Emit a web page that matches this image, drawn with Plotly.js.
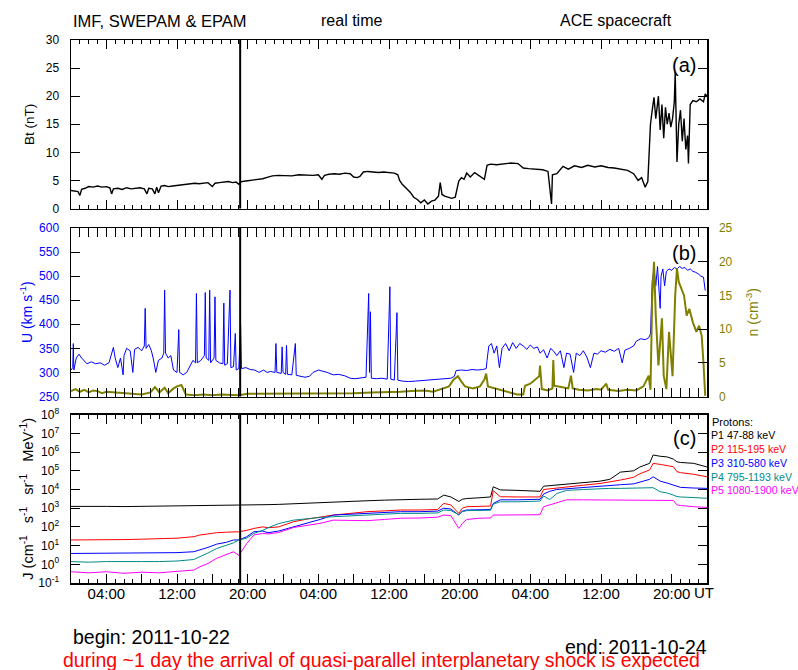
<!DOCTYPE html>
<html>
<head>
<meta charset="utf-8">
<script src="https://cdn.plot.ly/plotly-3.0.1.min.js"></script>
<style>
html,body{margin:0;padding:0;background:#fff;}
#chart{width:798px;height:670px;}
</style>
</head>
<body>
<div id="chart"></div>
<script>
// ---------- DATA (hours since 2011-10-22 00:00 UT) ----------
const tickHours = [0,4,8,12,16,20,24,28,32,36,40,44,48,52,56,60,64,68,72];
const tickLabels = ['','04:00','','12:00','','20:00','','04:00','','12:00','','20:00','','04:00','','12:00','','20:00',''];
const markerHour = 19.15;

// Panel (a): Bt (nT)
const btHours = [0,0.4,0.8,1.0,1.2,1.6,2.0,2.5,3.0,3.5,4.0,4.4,4.6,4.8,5.3,5.8,6.3,6.8,7.3,7.8,8.3,8.6,8.8,9.2,9.5,9.7,9.9,10.2,10.6,11.0,11.5,12.0,12.5,13.0,13.5,14.0,14.5,15.0,15.5,16.0,16.3,16.8,17.3,17.8,18.3,18.7,19.0,19.3,19.8,20.3,20.8,21.3,21.7,22.3,22.8,23.5,24.2,25.0,25.8,26.6,27.4,28.0,28.4,28.7,29.2,29.8,30.4,31.0,31.6,32.0,32.4,32.7,33.1,33.6,34.2,34.8,35.4,36.0,36.6,37.0,37.2,37.5,38.0,38.4,38.8,39.2,39.6,40.0,40.4,40.8,41.2,41.6,41.8,42.0,42.3,42.7,43.1,43.5,43.9,44.2,44.5,44.8,45.2,45.7,46.2,46.8,47.1,47.5,48.2,49.0,49.8,50.6,51.2,51.8,52.6,53.4,54.0,54.4,54.5,55.0,55.7,56.3,57.0,57.8,58.5,59.3,60.0,60.8,61.5,62.3,63.0,63.7,64.2,64.6,65.0,65.3,65.6,65.8,66.0,66.2,66.5,66.7,66.9,67.1,67.3,67.5,67.7,67.9,68.1,68.3,68.4,68.6,68.8,69.0,69.2,69.4,69.6,69.8,69.9,70.1,70.4,70.8,71.2,71.6,71.8,72.0];
const btValues = [3.2,3.1,3.0,2.3,3.4,3.6,3.9,3.8,4.0,3.8,3.9,3.7,2.6,3.5,3.6,3.4,3.7,3.5,3.6,3.7,3.5,2.6,3.6,3.5,2.6,3.8,2.8,4.0,4.1,3.9,4.0,4.1,4.2,4.3,4.4,4.5,4.4,4.5,4.6,3.9,4.5,4.6,4.7,4.8,4.6,4.7,4.3,4.8,4.9,5.0,5.0,5.1,5.3,5.6,5.8,5.9,5.9,5.8,6.0,5.9,5.9,6.0,5.2,5.9,6.1,6.2,6.1,6.3,6.2,5.6,5.5,5.7,6.5,6.6,6.5,6.4,6.5,6.4,6.3,6.0,5.0,4.3,3.5,2.9,2.0,1.6,1.0,1.5,0.8,1.3,1.5,2.2,4.6,2.5,2.2,2.0,1.8,2.0,4.9,5.5,5.2,6.3,5.6,6.4,5.8,5.2,7.7,7.9,7.8,8.0,8.1,8.0,7.2,7.1,7.0,6.9,6.6,0.8,6.0,6.2,7.5,7.0,7.6,7.3,7.7,7.4,7.6,7.3,7.2,7.0,6.8,6.2,5.0,5.5,3.8,4.8,15.0,17.5,19.8,16.0,20.0,14.0,18.5,12.5,18.0,15.0,17.0,14.5,16.0,19.0,24.3,8.3,15.0,17.5,12.0,16.0,10.5,13.0,8.0,18.5,19.2,19.0,19.5,19.0,20.4,20.0];

// Panel (b): U (km/s) and n (cm^-3)
const uHours = [0.0,0.2,0.26,0.32,0.6,0.9,1.2,1.5,1.8,2.3,2.8,3.3,3.8,4.3,4.6,4.8,5.0,5.3,5.6,5.9,6.0,6.3,6.7,7.0,7.2,7.6,8.0,8.3,8.4,8.5,8.8,9.1,9.3,9.6,9.9,10.3,10.5,10.6,10.7,11.0,11.3,11.6,12.0,12.2,12.3,12.7,13.1,13.5,13.8,14.1,14.2,14.3,14.7,15.1,15.2,15.3,15.6,15.7,15.8,16.2,16.3,16.4,16.8,17.2,17.3,17.4,17.7,18.0,18.1,18.4,18.6,18.7,19.0,19.2,19.3,19.8,20.3,20.8,21.3,21.8,22.2,22.6,23.1,23.2,23.3,23.8,23.9,24.0,24.3,24.4,24.5,25.0,25.4,25.5,26.0,26.5,27.0,27.4,28.0,28.5,29.0,29.7,30.3,31.0,31.6,32.2,32.8,33.4,33.7,33.8,33.9,34.0,34.6,35.2,35.8,36.1,36.2,36.6,36.9,37.0,37.5,38.2,39.0,39.8,40.6,41.4,42.2,43.0,43.4,43.6,44.2,44.8,45.4,46.0,46.6,47.0,47.1,47.3,47.6,47.9,48.2,48.5,48.8,49.2,49.6,50.0,50.4,50.8,51.2,51.6,52.0,52.4,52.8,53.1,53.5,53.9,54.3,54.6,55.0,55.4,55.8,56.1,56.5,56.9,57.2,57.6,58.0,58.4,58.8,59.2,59.6,60.0,60.5,61.0,61.5,62.0,62.4,62.7,63.2,63.7,64.0,64.5,65.0,65.4,65.6,65.8,66.0,66.2,66.4,66.6,66.7,66.8,67.0,67.2,67.4,67.7,68.0,68.3,68.6,68.9,69.2,69.5,69.8,70.1,70.4,70.7,71.0,71.3,71.6,71.8];
const uValues = [305,310,360,305,330,338,330,325,318,322,318,320,315,320,340,352,330,310,330,295,335,350,345,300,348,352,345,355,433,350,358,345,330,300,325,330,340,471,340,330,335,305,300,389,300,295,300,315,325,320,464,320,325,335,466,330,325,471,320,330,457,325,320,318,444,315,318,471,310,312,381,305,308,398,308,310,306,305,300,305,300,302,300,360,300,298,353,300,296,356,296,295,360,294,292,290,292,300,305,303,300,295,296,293,288,287,288,290,464,300,426,288,287,288,286,478,286,284,424,284,282,281,282,283,284,285,286,288,292,304,305,304,306,305,306,308,325,355,360,340,355,310,350,360,345,362,350,360,355,348,357,350,353,340,347,330,350,345,335,345,310,340,338,300,340,335,345,332,310,340,338,345,342,348,344,350,320,346,350,355,365,370,368,372,380,490,515,480,520,470,433,500,515,480,510,515,512,518,515,520,516,518,512,515,510,508,505,500,498,470];
const nHours = [0.0,0.5,1.0,1.5,2.0,2.5,3.0,3.5,4.0,5.0,6.0,7.0,8.0,9.0,9.5,10.0,10.6,11.0,11.6,12.0,12.5,13.0,14.0,15.0,16.0,17.0,18.0,19.0,20.0,22.0,24.0,26.0,28.0,30.0,32.0,34.0,36.0,37.3,38.5,40.0,41.0,42.0,42.8,43.3,43.8,44.2,44.6,45.5,46.3,46.8,47.0,47.2,48.0,49.0,49.7,50.5,51.2,51.4,52.0,52.5,53.0,53.1,53.3,54.0,54.5,54.6,54.7,55.5,56.3,56.6,56.8,57.5,58.5,59.5,60.0,60.6,60.8,62.0,63.0,64.0,64.8,65.4,65.6,65.8,66.0,66.2,66.5,66.7,66.9,67.1,67.4,67.7,67.9,68.1,68.4,68.6,68.8,69.1,69.4,69.7,70.0,70.4,70.8,71.1,71.4,71.6,71.8];
const nValues = [0.8,1.1,0.7,1.0,0.6,0.9,0.8,0.5,0.7,0.6,0.5,0.4,0.3,0.6,1.4,0.6,1.3,0.5,1.2,1.5,1.7,0.3,0.2,0.3,0.2,0.3,0.2,0.2,0.4,0.4,0.5,0.5,0.5,0.4,0.5,0.6,0.6,0.7,0.8,0.9,0.7,1.2,1.5,2.5,3.0,2.2,1.5,1.2,1.5,2.5,3.4,1.5,1.2,0.9,0.6,0.3,0.3,1.6,1.9,2.5,3.0,4.6,1.1,0.9,1.2,5.4,1.6,1.4,1.2,3.1,1.2,1.0,0.9,1.1,1.0,1.9,1.0,0.8,1.0,0.9,1.5,3.1,1.0,14.6,20.0,12.0,4.6,8.0,11.6,3.1,1.1,9.6,6.0,3.0,15.0,19.0,17.0,16.0,15.0,12.0,13.0,11.0,9.6,10.5,9.0,5.0,0.1];

// Panel (c): EPAM proton fluxes
const pHours = [0,2,4,6,8,10,12,13.9,14.6,15.5,16.5,17.6,18.4,19.0,19.9,20.7,21.7,22.3,23.5,25.2,26.7,28.2,29.7,31.5,33.5,35.5,37.3,39.5,41.5,42.2,43.0,43.9,44.3,44.8,46.2,47.5,47.8,48.6,50.5,52.4,53.1,53.5,54.2,55.0,56.1,58.0,59.9,61.0,62.2,63.7,64.4,65.5,65.9,66.7,67.5,68.2,68.6,69.0,70.5,72.0];
const p1 = [1250,1200,1250,1220,1250,1240,1280,1300,1300,1320,1350,1380,1400,1450,1450,1500,1550,1550,1600,1700,1800,1900,2100,2300,2500,2700,2900,3000,3100,5000,4000,2300,3000,3300,3600,4000,14000,9500,9000,8800,8000,15000,16000,18000,20000,23000,28000,35000,85000,100000,160000,250000,700000,600000,550000,420000,300000,280000,250000,160000];
const p2 = [20,20,21,21,22,23,25,30,37,42,49,52,55,55,65,83,100,90,100,190,260,350,430,520,650,720,800,800,850,1800,1500,530,1000,1200,1250,1300,8700,4100,4000,4200,4000,10000,11000,12000,14000,17000,21000,25000,32000,45000,70000,110000,250000,220000,190000,165000,90000,80000,65000,48000];
const p3 = [3.8,3.9,3.8,4.0,3.9,4.0,4.2,4.7,5.8,8,12,15,20,20,30,55,60,49,60,100,150,250,430,480,530,600,650,650,700,1000,900,430,700,800,820,850,1800,2800,2800,2900,3000,5700,8000,10000,11000,13000,16000,17000,18000,20000,25000,35000,48000,28000,22000,17000,14000,13000,12000,11500];
const p4 = [1.4,1.3,1.4,1.35,1.4,1.4,1.5,1.8,2.5,4,7,10,14,20,25,45,65,90,150,230,280,320,350,390,430,480,530,530,560,800,750,450,650,740,760,780,1650,2200,2200,2300,2400,4500,2900,6100,9000,10000,11500,11500,11500,11500,12000,12500,12500,7600,6500,5000,4200,4000,3700,3400];
const p5 = [0.4,0.35,0.4,0.33,0.38,0.35,0.42,0.49,0.74,1.1,2.1,3.2,4.7,3.0,13,37,45,42,50,93,120,155,230,220,215,250,290,300,330,430,400,83,155,250,290,300,430,430,430,440,450,1200,1500,2000,2800,2800,2800,2800,2800,2800,2800,2800,2800,2700,2700,2600,1500,1400,1200,1100];
const protonNames = ['P1 47-88 keV','P2 115-195 keV','P3 310-580 keV','P4 795-1193 keV','P5 1080-1900 keV'];
const protonColors = ['#000000','#ff0000','#0000ff','#008b8b','#ff00ff'];
const jTickVals = [0.1,1,10,100,1000,1e4,1e5,1e6,1e7,1e8];
const jTickText = ['10<sup>-1</sup>','10<sup>0</sup>','10<sup>1</sup>','10<sup>2</sup>','10<sup>3</sup>','10<sup>4</sup>','10<sup>5</sup>','10<sup>6</sup>','10<sup>7</sup>','10<sup>8</sup>'];

// ---------- LAYOUT / TRACES ----------
const FONT = 'Liberation Sans, Arial, Helvetica, sans-serif';
const W = 798, H = 670, ML = 71, MR = 91, MT = 40, MB = 87;
const PW = W - ML - MR, PH = H - MT - MB;
const py = y => 1 - (y - MT) / PH;   // pixel row -> paper y
const px = x => (x - ML) / PW;       // pixel col -> paper x

const domA = [py(208.5), 1];
const domB = [py(396.5), py(228)];
const domC = [0, py(414.7)];

const traces = [
  {x: btHours, y: btValues, xaxis: 'x', yaxis: 'y', type: 'scatter', mode: 'lines', name: 'Bt',
   line: {color: '#000', width: 1.4}},
  {x: uHours, y: uValues, xaxis: 'x2', yaxis: 'y2', type: 'scatter', mode: 'lines', name: 'U',
   line: {color: '#0000ff', width: 1}},
  {x: nHours, y: nValues, xaxis: 'x2', yaxis: 'y4', type: 'scatter', mode: 'lines', name: 'n',
   line: {color: '#808000', width: 2}}
];
[p1, p2, p3, p4, p5].forEach((vals, i) => {
  traces.push({x: pHours, y: vals, xaxis: 'x3', yaxis: 'y3', type: 'scatter', mode: 'lines',
    name: protonNames[i], line: {color: protonColors[i], width: 1}});
});

function xAxis(anchor, showLabels) {
  return {
    domain: [0, 1], anchor: anchor, range: [0, 72],
    tickmode: 'array', tickvals: tickHours, ticktext: tickLabels,
    ticks: 'inside', ticklen: 9, tickwidth: 1, tickcolor: '#000',
    minor: {tickmode: 'linear', tick0: 0, dtick: 1, ticks: 'inside', ticklen: 4, tickcolor: '#000', tickwidth: 1},
    showline: true, linecolor: '#000', linewidth: 1.5, mirror: 'allticks',
    showgrid: false, zeroline: false, showticklabels: showLabels, ticklabelstandoff: -4,
    tickfont: {family: FONT, size: 15, color: '#000'}
  };
}

const baseY = {
  ticks: 'inside', ticklen: 9, tickwidth: 1, tickcolor: '#000', showline: true, linecolor: '#000',
  linewidth: 1.5, showgrid: false, zeroline: false, ticklabelstandoff: 8
};

const layout = {
  width: W, height: H, margin: {l: ML, r: MR, t: MT, b: MB},
  paper_bgcolor: '#fff', plot_bgcolor: '#fff', showlegend: false,
  font: {family: FONT, color: '#000'},
  xaxis: xAxis('y', false),
  xaxis2: xAxis('y2', false),
  xaxis3: xAxis('y3', true),
  yaxis: Object.assign({}, baseY, {domain: domA, anchor: 'x', range: [0, 30], tickmode: 'linear', tick0: 0, dtick: 5,
    mirror: 'allticks', tickfont: {family: FONT, size: 12, color: '#000'},
    title: {text: 'Bt (nT)', font: {family: FONT, size: 13.5, color: '#000'}, standoff: 8}}),
  yaxis2: Object.assign({}, baseY, {domain: domB, anchor: 'x2', range: [250, 600], tickmode: 'linear', tick0: 250, dtick: 50,
    mirror: true, tickfont: {family: FONT, size: 12, color: '#0000ff'},
    title: {text: 'U (km s<sup>-1</sup>)', font: {family: FONT, size: 14, color: '#0000ff'}, standoff: 3}}),
  yaxis4: Object.assign({}, baseY, {overlaying: 'y2', side: 'right', anchor: 'x2', range: [0, 25], tickmode: 'linear', tick0: 0, dtick: 5,
    tickfont: {family: FONT, size: 12, color: '#808000'},
    title: {text: 'n (cm<sup>-3</sup>)', font: {family: FONT, size: 14, color: '#808000'}, standoff: 16}}),
  yaxis3: Object.assign({}, baseY, {domain: domC, anchor: 'x3', type: 'log', range: [-1, 8], tickmode: 'array',
    tickvals: jTickVals, ticktext: jTickText, mirror: 'allticks', tickfont: {family: FONT, size: 12, color: '#000'},
    title: {text: 'J (cm<sup>-1</sup>   s<sup>-1</sup>   sr<sup>-1</sup>   MeV<sup>-1</sup>)', font: {family: FONT, size: 14.5, color: '#000'}, standoff: 1}}),
  shapes: [['x', 'y'], ['x2', 'y2'], ['x3', 'y3']].map(([xr, yr]) => ({
    type: 'line', xref: xr, yref: yr + ' domain', x0: markerHour, x1: markerHour, y0: 0, y1: 1,
    line: {color: '#000', width: 2}
  })),
  annotations: []
};

const ann = (text, x, y, opts) => Object.assign({text: text, x: px(x), y: py(y), xref: 'paper', yref: 'paper',
  showarrow: false, font: {family: FONT, size: 16, color: '#000'}, xanchor: 'center', yanchor: 'middle'}, opts || {});

layout.annotations.push(
  ann('IMF, SWEPAM &amp; EPAM', 71, 21, {xanchor: 'left', font: {family: FONT, size: 16.5, color: '#000'}}),
  ann('real time', 351, 21),
  ann('ACE spacecraft', 616, 21),
  ann('(a)', 684, 65, {font: {family: FONT, size: 20, color: '#000'}}),
  ann('(b)', 684, 253, {font: {family: FONT, size: 20, color: '#000'}}),
  ann('(c)', 684, 438, {font: {family: FONT, size: 20, color: '#000'}}),
  ann('UT', 692, 592, {xanchor: 'left', font: {family: FONT, size: 15, color: '#000'}}),
  ann('Protons:', 710, 422, {xanchor: 'left', font: {family: FONT, size: 11, color: '#000'}}),
  ann('begin: 2011-10-22', 71, 637, {xanchor: 'left', font: {family: FONT, size: 19.5, color: '#000'}}),
  ann('end: 2011-10-24', 709, 646.5, {xanchor: 'right', font: {family: FONT, size: 19.5, color: '#000'}}),
  ann('during ~1 day the arrival of quasi-parallel interplanetary shock is expected', 381, 660,
      {font: {family: FONT, size: 19.5, color: '#ff0000'}})
);
const legendRows = [435, 449, 463, 476.5, 490];
protonNames.forEach((nm, i) => {
  layout.annotations.push(ann(nm, 709, legendRows[i], {xanchor: 'left', font: {family: FONT, size: 10.6, color: protonColors[i]}}));
});

Plotly.newPlot('chart', traces, layout, {displayModeBar: false, staticPlot: true});
</script>
</body>
</html>
